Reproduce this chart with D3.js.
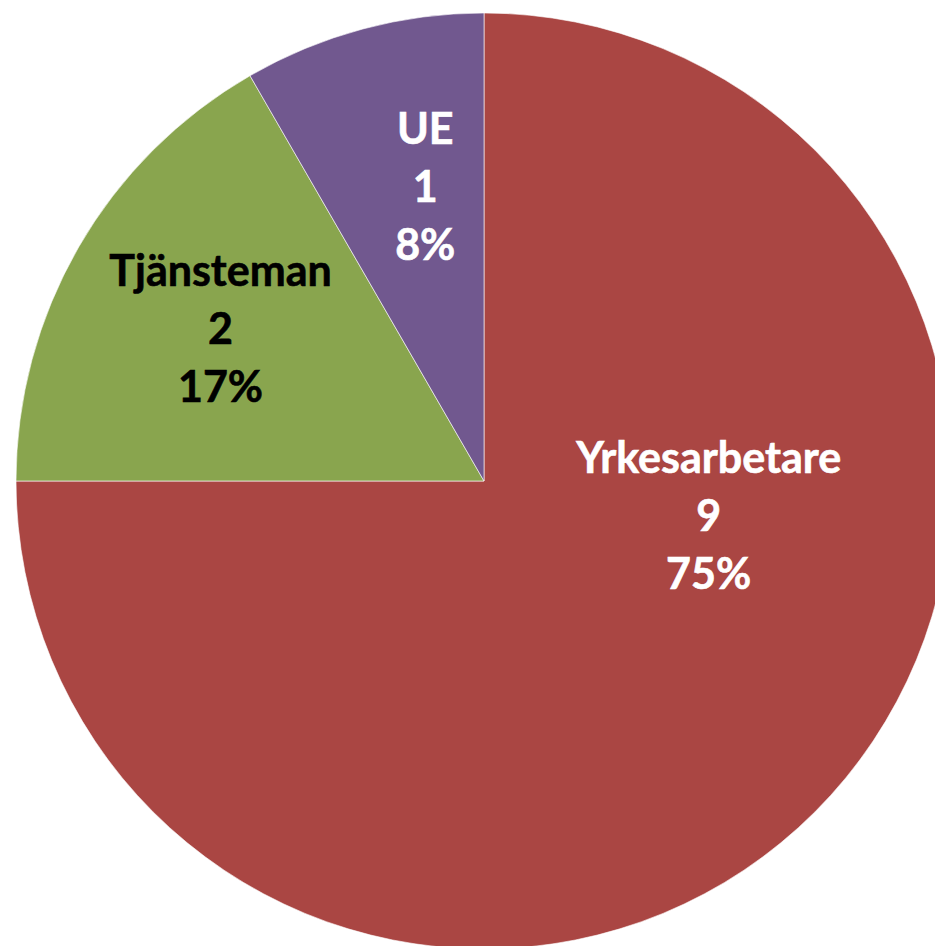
<!DOCTYPE html>
<html>
<head>
<meta charset="utf-8">
<script src="https://cdn.jsdelivr.net/npm/d3@7"></script>
<style>
  body { margin: 0; background: #fff; }
  svg { display: block; }
  .lbl { font-family: Lato, "Open Sans", sans-serif; font-weight: bold; font-size: 43px; }
</style>
</head>
<body>
<svg id="chart"></svg>
<script>
// data
var categories = ["Yrkesarbetare", "Tjänsteman", "UE"];
var counts = [9, 2, 1];
var colors = ["#AA4643", "#89A54E", "#71588F"];
var textColors = ["#ffffff", "#000000", "#ffffff"];

var screen = {width: 935, height: 946};
var cx = 484, cy = 481, radius = 468;

var svg = d3.select("#chart")
            .attr("width", screen.width)
            .attr("height", screen.height);

var total = d3.sum(counts);

var pie = d3.pie()
            .sort(null)
            .value(function(d) { return d; });

var arc = d3.arc()
            .innerRadius(0)
            .outerRadius(radius);

var labelArc = d3.arc()
                 .innerRadius(radius * 0.65)
                 .outerRadius(radius * 0.65);

var slices = pie(counts);

var g = svg.append("g")
           .attr("transform", "translate(" + cx + "," + cy + ")");

g.selectAll("path")
 .data(slices)
 .enter()
 .append("path")
 .attr("d", arc)
 .style("fill", function(d, i) { return colors[i]; })
 .style("stroke", "rgba(255,255,255,0.6)")
 .style("stroke-width", 1);

// label spot - big slice gets pushed up like excel "best fit"
var labelPos = function(d)
               {
                 if (d.endAngle - d.startAngle > Math.PI)
                 {
                   return [radius * 0.48, radius * 0.075];
                 }
                 var p = labelArc.centroid(d);
                 // thin slice: nudge the text away from the edge
                 if (d.endAngle - d.startAngle < Math.PI / 4)
                 {
                   p[0] += 20;
                 }
                 return p;
               };

var lineH = 58;

var labels = g.selectAll("text.lbl")
              .data(slices)
              .enter()
              .append("text")
              .attr("class", "lbl")
              .attr("text-anchor", "middle")
              .style("fill", function(d, i) { return textColors[i]; })
              .style("stroke", function(d, i) { return textColors[i]; })
              .style("stroke-width", 0.6)
              .attr("transform", function(d)
                    {
                      var p = labelPos(d);
                      return "translate(" + p[0] + "," + p[1] + ")";
                    });

labels.each(function(d, i)
            {
              var t = d3.select(this);
              var lines = [categories[i], counts[i], Math.round(counts[i] / total * 100) + "%"];
              lines.forEach(function(s, k)
                            {
                              t.append("tspan")
                               .attr("x", 0)
                               .attr("y", (k - 1) * lineH + 15)
                               .text(s);
                            });
            });
</script>
</body>
</html>
